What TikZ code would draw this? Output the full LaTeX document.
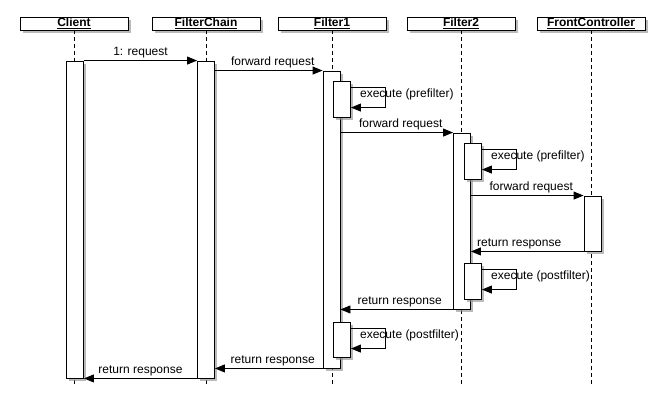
\documentclass[tikz,border=0pt]{standalone}
\usepackage{fontspec}
\setmainfont{Liberation Sans}
\usetikzlibrary{arrows.meta,shadows}
\begin{document}
\begin{tikzpicture}[x=1pt,y=-1pt,
  head/.style={draw,fill=white,line width=0.9pt,minimum width=108pt,minimum height=13pt,inner sep=0pt,
    font=\fontsize{12}{13}\selectfont\bfseries,
    drop shadow={shadow xshift=2.5pt,shadow yshift=-2.5pt,fill=black!45,opacity=0.6}},
  bar/.style={draw,fill=white,line width=0.9pt,minimum width=17pt,inner sep=0pt,
    drop shadow={shadow xshift=2.5pt,shadow yshift=-2.5pt,fill=black!45,opacity=0.6}},
  life/.style={line width=0.9pt,dash pattern=on 4pt off 3pt},
  msg/.style={line width=0.9pt,-{Triangle[length=10pt,width=8pt]}},
  lbl/.style={font=\fontsize{12}{14}\selectfont,inner sep=2pt}]
\useasboundingbox (0,0) rectangle (666,402);
\node[head] (client) at (74,23.5) {\underline{Client}};
\node[head] (chain) at (206,23.5) {\underline{FilterChain}};
\node[head] (f1) at (332,23.5) {\underline{Filter1}};
\node[head] (f2) at (461,23.5) {\underline{Filter2}};
\node[head] (fc) at (591,23.5) {\underline{FrontController}};
\coordinate (client-end) at (74,387);
\coordinate (chain-end) at (206,387);
\coordinate (f1-end) at (332,387);
\coordinate (f2-end) at (461,387);
\coordinate (fc-end) at (591,387);
\draw[life] (client.south) -- (client-end);
\draw[life] (chain.south) -- (chain-end);
\draw[life] (f1.south) -- (f1-end);
\draw[life] (f2.south) -- (f2-end);
\draw[life] (fc.south) -- (fc-end);
\node[bar,minimum height=317pt] (client-act) at (75,219.5) {};
\node[bar,minimum height=317pt] (chain-act) at (206,219.5) {};
\node[bar,minimum height=297pt] (f1-act) at (331.5,219.5) {};
\node[bar,minimum height=36pt] (f1-pre) at (342,99) {};
\node[bar,minimum height=35pt] (f1-post) at (342,339.5) {};
\node[bar,minimum height=176pt] (f2-act) at (462,221) {};
\node[bar,minimum height=36pt] (f2-pre) at (473,161) {};
\node[bar,minimum height=36pt] (f2-post) at (473,281) {};
\node[bar,minimum height=55pt] (fc-act) at (592.5,223.5) {};
\draw[msg] (client-act.north east) -- node[lbl,above] {1: request} (chain-act.north west);
\draw[msg] (chain-act.east |- f1-act.north) -- node[lbl,above,xshift=4pt] {forward request} (f1-act.north west);
\draw[msg] ([yshift=-7pt]f1-pre.north east) -- ++(34,0) |- ([yshift=-27pt]f1-pre.north east);
\node[lbl,anchor=west] (f1-pre-txt) at ([xshift=7pt,yshift=-14pt]f1-pre.north east) {execute (prefilter)};
\draw[msg] (f1-act.east |- f2-act.north) -- node[lbl,above,xshift=4pt] {forward request} (f2-act.north west);
\draw[msg] ([yshift=-7pt]f2-pre.north east) -- ++(34,0) |- ([yshift=-27pt]f2-pre.north east);
\node[lbl,anchor=west] (f2-pre-txt) at ([xshift=7pt,yshift=-14pt]f2-pre.north east) {execute (prefilter)};
\draw[msg] (f2-act.east |- fc-act.north) -- node[lbl,above,xshift=4pt] {forward request} (fc-act.north west);
\draw[msg] (fc-act.south west) -- node[lbl,above,xshift=-8pt] {return response} (f2-act.east |- fc-act.south);
\draw[msg] ([yshift=-7pt]f2-post.north east) -- ++(34,0) |- ([yshift=-27pt]f2-post.north east);
\node[lbl,anchor=west] (f2-post-txt) at ([xshift=7pt,yshift=-14pt]f2-post.north east) {execute (postfilter)};
\draw[msg] (f2-act.south west) -- node[lbl,above,xshift=3pt] {return response} (f1-act.east |- f2-act.south);
\draw[msg] ([yshift=-7pt]f1-post.north east) -- ++(34,0) |- ([yshift=-27pt]f1-post.north east);
\node[lbl,anchor=west] (f1-post-txt) at ([xshift=7pt,yshift=-14pt]f1-post.north east) {execute (postfilter)};
\draw[msg] (f1-act.south west) -- node[lbl,above,xshift=4pt] {return response} (chain-act.east |- f1-act.south);
\draw[msg] (chain-act.south west) -- node[lbl,above] {return response} (client-act.south east);
\end{tikzpicture}
\end{document}
